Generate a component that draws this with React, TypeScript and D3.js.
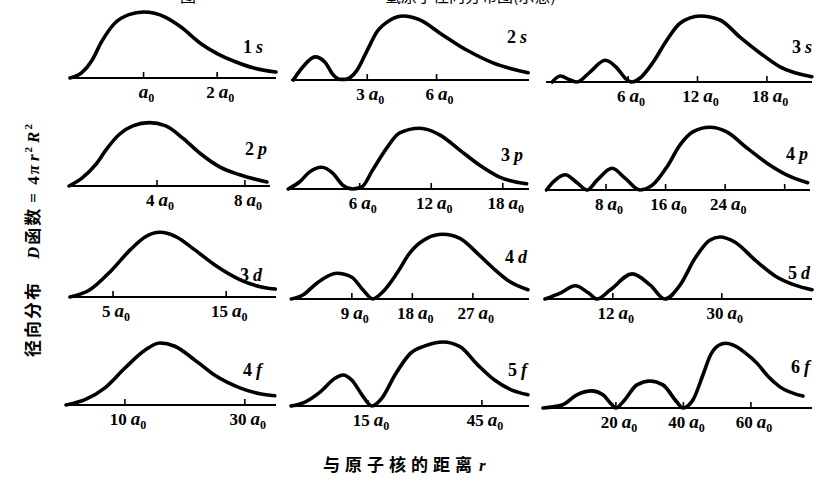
import React from 'react';
import * as d3 from 'd3';

const W = 818;
const H = 484;

// ---- data: radial distance r (units of a0) and relative D = 4πr²R² ----
const r1s = [0, 0.16, 0.3, 0.43, 0.6, 0.8, 1.0, 1.3, 1.5, 1.78, 2.0, 2.24, 2.5, 2.8];
const d1s = [0, 0.08, 0.27, 0.55, 0.82, 0.96, 1.0, 0.92, 0.78, 0.52, 0.37, 0.25, 0.15, 0.09];

const r2s = [-0.2, 0.22, 0.74, 1.17, 1.52, 1.82, 2.04, 2.56, 3.0, 3.42, 4.0, 4.55, 5.28, 6.15, 7.32, 8.44, 9.96];
const d2s = [0, 0.2, 0.35, 0.27, 0.08, 0.01, 0.01, 0.15, 0.45, 0.73, 0.91, 0.97, 0.91, 0.71, 0.45, 0.26, 0.11];

const r3s = [-0.56, 0.13, 0.99, 1.59, 2.7, 4.01, 5.05, 5.74, 6.35, 7.04, 8.16, 9.37, 10.49, 12.22, 13.94, 15.67, 17.4, 19.13, 21.89];
const d3s = [0, 0.09, 0.03, 0, 0.15, 0.33, 0.21, 0.06, 0, 0.06, 0.3, 0.64, 0.89, 1.0, 0.94, 0.68, 0.44, 0.23, 0.08];

const r2p = [0, 0.59, 1.23, 1.69, 2.28, 2.9, 3.65, 4.4, 5.16, 5.94, 6.85, 7.76, 9.0];
const d2p = [0, 0.12, 0.33, 0.55, 0.78, 0.91, 0.96, 0.91, 0.73, 0.5, 0.29, 0.17, 0.06];

const r3p = [0, 0.97, 1.8, 2.81, 3.73, 4.57, 5.41, 6.17, 7.09, 8.26, 9.35, 11.03, 12.71, 14.39, 16.07, 17.74, 20.0];
const d3p = [0, 0.11, 0.26, 0.33, 0.24, 0.06, 0, 0.03, 0.29, 0.62, 0.85, 0.92, 0.82, 0.59, 0.36, 0.18, 0.08];

const r4p = [0, 0.9, 2.5, 4.11, 5.46, 6.8, 8.81, 10.55, 12.56, 14.3, 16.18, 17.92, 19.66, 21.94, 24.22, 26.9, 29.58, 32.26, 35.08];
const d4p = [0, 0.12, 0.23, 0.11, 0, 0.15, 0.33, 0.18, 0, 0.08, 0.35, 0.68, 0.88, 0.95, 0.88, 0.64, 0.41, 0.23, 0.11];

const r3d = [1.2, 2.96, 4.73, 6.5, 7.83, 9.16, 10.5, 12.26, 14.03, 16.24, 18.45, 19.34];
const d3d = [0, 0.11, 0.38, 0.71, 0.91, 0.98, 0.92, 0.71, 0.48, 0.26, 0.14, 0.12];

const r4d = [0, 1.71, 3.79, 6.77, 9.0, 10.64, 12.13, 13.62, 15.7, 17.63, 20.16, 22.54, 25.07, 27.6, 29.99, 32.52, 35.19];
const d4d = [0, 0.06, 0.24, 0.39, 0.33, 0.14, 0, 0.11, 0.39, 0.7, 0.92, 0.98, 0.92, 0.7, 0.47, 0.26, 0.14];

const r5d = [0.8, 3.3, 5.8, 8.0, 9.4, 11.6, 15.2, 18.2, 20.6, 23.1, 25.6, 28.0, 29.7, 32.2, 35.5, 38.8, 42.1, 44.9];
const d5d = [0, 0.09, 0.2, 0.09, 0, 0.14, 0.38, 0.21, 0, 0.21, 0.62, 0.89, 0.94, 0.86, 0.59, 0.35, 0.21, 0.14];

const r4f = [0.17, 3.33, 6.67, 10, 13.33, 15.83, 18.33, 21.67, 25, 29.17, 32.5, 35];
const d4f = [0, 0.08, 0.26, 0.56, 0.83, 0.94, 0.89, 0.68, 0.45, 0.26, 0.17, 0.14];

const r5f = [-5.26, -1.58, 2.37, 6.32, 8.42, 10.79, 13.42, 16.05, 18.68, 22.11, 26.05, 30.0, 34.74, 39.21, 43.95, 48.42, 52.89, 57.11];
const d5f = [0, 0.06, 0.21, 0.42, 0.47, 0.39, 0.17, 0, 0.12, 0.47, 0.79, 0.91, 0.97, 0.9, 0.62, 0.39, 0.24, 0.17];

const r6f = [-1.6, 4.3, 8.44, 12.89, 16.15, 18.81, 20, 22.07, 26.22, 30.07, 33.93, 38.07, 39.85, 42.81, 45.78, 48.0, 50.5, 52.5, 55.26, 58.22, 61.78, 65.04, 68.59, 75.41];
const d6f = [0, 0.05, 0.2, 0.26, 0.2, 0.05, 0, 0.09, 0.35, 0.41, 0.35, 0.09, 0, 0.12, 0.5, 0.8, 0.95, 0.98, 0.94, 0.84, 0.68, 0.48, 0.32, 0.18];

// tick values (a0 multiples) and which of them are labelled
const ticks1s = [1, 2];
const ticks2s = [3, 6];
const ticks3s = [6, 12, 18];
const ticks2p = [4, 8];
const ticks3p = [6, 12, 18];
const ticks4p = [8, 16, 24, 32];
const labels4p = [8, 16, 24];
const ticks3d = [5, 15];
const ticks4d = [9, 18, 27];
const ticks5d = [12, 30];
const ticks4f = [10, 30];
const ticks5f = [15, 45];
const ticks6f = [20, 40, 60];

const orbitalNames = ['1s', '2s', '3s', '2p', '3p', '4p', '3d', '4d', '5d', '4f', '5f', '6f'];

// ---- layout (pixels) ----
type Panel = {
  name: string; r: number[]; d: number[]; ticks: number[]; labels?: number[];
  domain: [number, number]; range: [number, number]; base: number;
  labelX: number; labelY: number;
};

const panels: Panel[] = [
  { name: orbitalNames[0], r: r1s, d: d1s, ticks: ticks1s, domain: [0, 2.8], range: [70, 276], base: 78, labelX: 263, labelY: 53 },
  { name: orbitalNames[1], r: r2s, d: d2s, ticks: ticks2s, domain: [-0.3, 10.0], range: [291, 529], base: 80, labelX: 527, labelY: 43 },
  { name: orbitalNames[2], r: r3s, d: d3s, ticks: ticks3s, domain: [-1.1, 21.9], range: [546, 812], base: 82, labelX: 812, labelY: 53 },
  { name: orbitalNames[3], r: r2p, d: d2p, ticks: ticks2p, domain: [0, 9.14], range: [69, 270], base: 186, labelX: 267, labelY: 155 },
  { name: orbitalNames[4], r: r3p, d: d3p, ticks: ticks3p, domain: [-0.1, 20.2], range: [287, 529], base: 189, labelX: 523, labelY: 161 },
  { name: orbitalNames[5], r: r4p, d: d4p, ticks: ticks4p, labels: labels4p, domain: [-0.2, 35.4], range: [545, 810], base: 190, labelX: 808, labelY: 160 },
  { name: orbitalNames[6], r: r3d, d: d3d, ticks: ticks3d, domain: [1.2, 19.4], range: [70, 276], base: 297, labelX: 262, labelY: 281 },
  { name: orbitalNames[7], r: r4d, d: d4d, ticks: ticks4d, domain: [-0.2, 35.35], range: [290, 529], base: 299, labelX: 527, labelY: 263 },
  { name: orbitalNames[8], r: r5d, d: d5d, ticks: ticks5d, domain: [0.8, 44.9], range: [545, 812], base: 299, labelX: 810, labelY: 279 },
  { name: orbitalNames[9], r: r4f, d: d4f, ticks: ticks4f, domain: [0.17, 35.2], range: [66, 276], base: 405, labelX: 262, labelY: 376 },
  { name: orbitalNames[10], r: r5f, d: d5f, ticks: ticks5f, domain: [-5.26, 57.4], range: [291, 529], base: 406, labelX: 527, labelY: 376 },
  { name: orbitalNames[11], r: r6f, d: d6f, ticks: ticks6f, domain: [-1.6, 78.1], range: [543, 812], base: 408, labelX: 810, labelY: 373 },
];

const PANEL_H = 66;
const SERIF = "'Liberation Serif', 'DejaVu Serif', serif";
const CJK = "'Noto Sans CJK SC', 'Noto Sans', sans-serif";

function TickLabel({ x, y, v }: { x: number; y: number; v: number }) {
  return (
    <text x={x} y={y} textAnchor="middle" fontFamily={SERIF} fontWeight="bold" fontSize={17} fill="#000">
      {v !== 1 && <tspan>{v}</tspan>}
      <tspan fontStyle="italic" fontSize={19} dx={v !== 1 ? 4 : 0}>a</tspan>
      <tspan fontSize={12} dy={4}>0</tspan>
    </text>
  );
}

function PanelView({ p }: { p: Panel }) {
  const xs = d3.scaleLinear().domain(p.domain).range(p.range);
  const ys = d3.scaleLinear().domain([0, 1]).range([p.base, p.base - PANEL_H]);
  const pts: [number, number][] = p.r.map((r, i) => [r, p.d[i]]);
  const line = d3.line<[number, number]>()
    .x(d => xs(d[0]))
    .y(d => ys(d[1]))
    .curve(d3.curveMonotoneX);
  const labelled = p.labels ?? p.ticks;
  const num = p.name.slice(0, 1);
  const letter = p.name.slice(1);
  return (
    <g>
      <line x1={p.range[0]} x2={p.range[1]} y1={p.base} y2={p.base} stroke="#000" strokeWidth={2} />
      {p.ticks.map(t => (
        <line key={t} x1={xs(t)} x2={xs(t)} y1={p.base} y2={p.base - 6} stroke="#000" strokeWidth={1.6} />
      ))}
      <path d={line(pts) ?? ''} fill="none" stroke="#000" strokeWidth={3.6} strokeLinejoin="round" strokeLinecap="round" />
      {labelled.map(t => (
        <TickLabel key={t} x={xs(t) + 3} y={p.base + 20} v={t} />
      ))}
      <text x={p.labelX} y={p.labelY} textAnchor="end" fontFamily={SERIF} fontWeight="bold" fontSize={18} fill="#000">
        <tspan>{num}</tspan>
        <tspan dx={4} fontStyle="italic">{letter}</tspan>
      </text>
    </g>
  );
}

export default function App() {
  return (
    <svg width={W} height={H} viewBox={`0 0 ${W} ${H}`} style={{ position: 'absolute', left: 0, top: 0, background: '#fff' }}>
      <rect x={0} y={0} width={W} height={H} fill="#fff" />
      {/* title, cut off at the top edge as in the reference */}
      <text x={180} y={2} fontFamily={CJK} fontSize={16} fill="#000">图</text>
      <text x={385} y={2} fontFamily={CJK} fontSize={16} fill="#000">氢原子径向分布图(示意)</text>
      {panels.map(p => <PanelView key={p.name} p={p} />)}
      {/* y axis label */}
      <text transform="translate(39,357) rotate(-90)" fontFamily={CJK} fontWeight="bold" fontSize={17} fill="#000" letterSpacing={2}>
        <tspan>径向分布</tspan>
        <tspan dx={22} fontFamily={SERIF} fontStyle="italic">D</tspan>
        <tspan>函数</tspan>
        <tspan fontFamily={SERIF} dx={4}>= 4</tspan>
        <tspan fontFamily={SERIF} fontStyle="italic">π</tspan>
        <tspan fontFamily={SERIF} fontStyle="italic" dx={2}>r</tspan>
        <tspan fontFamily={SERIF} fontSize={11} dy={-7}>2</tspan>
        <tspan fontFamily={SERIF} fontStyle="italic" dy={7} dx={2}>R</tspan>
        <tspan fontFamily={SERIF} fontSize={11} dy={-7}>2</tspan>
      </text>
      {/* x axis label */}
      <text x={323} y={471} fontFamily={CJK} fontWeight="bold" fontSize={17} fill="#000" letterSpacing={5}>
        与原子核的距离
        <tspan fontFamily={SERIF} fontStyle="italic" dx={2}>r</tspan>
      </text>
    </svg>
  );
}
